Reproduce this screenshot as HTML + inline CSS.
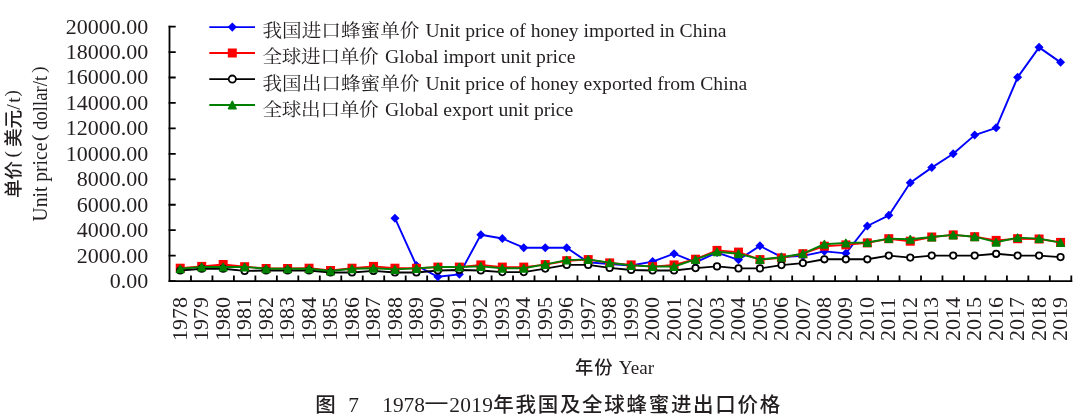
<!DOCTYPE html>
<html lang="zh-CN">
<head>
<meta charset="utf-8">
<title>图 7 1978—2019年我国及全球蜂蜜进出口价格</title>
<style>
html,body{margin:0;padding:0;background:#fff;}
body{width:1080px;height:419px;overflow:hidden;position:relative;}
svg{position:absolute;left:0;top:0;display:block;}
.s{font-family:"Liberation Serif","Noto Serif CJK SC",serif;fill:#231f20;}
.h{font-family:"Liberation Serif","Noto Sans CJK SC",sans-serif;fill:#231f20;}
</style>
</head>
<body>
<svg width="1080" height="419" viewBox="0 0 1080 419">
<rect x="0" y="0" width="1080" height="419" fill="#ffffff"/>

<g stroke="#000" stroke-width="1.8" fill="none" stroke-linecap="square">
<path d="M169.5 26.6 V281.1 H1071.3"/>
<path d="M169.5 281.10 h5.3 M169.5 255.65 h5.3 M169.5 230.20 h5.3 M169.5 204.75 h5.3 M169.5 179.30 h5.3 M169.5 153.85 h5.3 M169.5 128.40 h5.3 M169.5 102.95 h5.3 M169.5 77.50 h5.3 M169.5 52.05 h5.3 M169.5 26.60 h5.3 M190.97 281.1 v-4.7 M212.44 281.1 v-4.7 M233.91 281.1 v-4.7 M255.39 281.1 v-4.7 M276.86 281.1 v-4.7 M298.33 281.1 v-4.7 M319.80 281.1 v-4.7 M341.27 281.1 v-4.7 M362.74 281.1 v-4.7 M384.21 281.1 v-4.7 M405.69 281.1 v-4.7 M427.16 281.1 v-4.7 M448.63 281.1 v-4.7 M470.10 281.1 v-4.7 M491.57 281.1 v-4.7 M513.04 281.1 v-4.7 M534.51 281.1 v-4.7 M555.99 281.1 v-4.7 M577.46 281.1 v-4.7 M598.93 281.1 v-4.7 M620.40 281.1 v-4.7 M641.87 281.1 v-4.7 M663.34 281.1 v-4.7 M684.81 281.1 v-4.7 M706.29 281.1 v-4.7 M727.76 281.1 v-4.7 M749.23 281.1 v-4.7 M770.70 281.1 v-4.7 M792.17 281.1 v-4.7 M813.64 281.1 v-4.7 M835.11 281.1 v-4.7 M856.59 281.1 v-4.7 M878.06 281.1 v-4.7 M899.53 281.1 v-4.7 M921.00 281.1 v-4.7 M942.47 281.1 v-4.7 M963.94 281.1 v-4.7 M985.41 281.1 v-4.7 M1006.89 281.1 v-4.7 M1028.36 281.1 v-4.7 M1049.83 281.1 v-4.7 M1071.30 281.1 v-4.7 "/>
</g>
<g class="s" font-size="22" text-anchor="end">
<text x="148.3" y="288.0">0.00</text>
<text x="148.3" y="262.6">2000.00</text>
<text x="148.3" y="237.1">4000.00</text>
<text x="148.3" y="211.7">6000.00</text>
<text x="148.3" y="186.2">8000.00</text>
<text x="148.3" y="160.8">10000.00</text>
<text x="148.3" y="135.3">12000.00</text>
<text x="148.3" y="109.8">14000.00</text>
<text x="148.3" y="84.4">16000.00</text>
<text x="148.3" y="58.9">18000.00</text>
<text x="148.3" y="33.5">20000.00</text>
</g>
<g class="s" font-size="22">
<text transform="translate(186.84 341) rotate(-90)">1978</text>
<text transform="translate(208.31 341) rotate(-90)">1979</text>
<text transform="translate(229.78 341) rotate(-90)">1980</text>
<text transform="translate(251.25 341) rotate(-90)">1981</text>
<text transform="translate(272.72 341) rotate(-90)">1982</text>
<text transform="translate(294.19 341) rotate(-90)">1983</text>
<text transform="translate(315.66 341) rotate(-90)">1984</text>
<text transform="translate(337.14 341) rotate(-90)">1985</text>
<text transform="translate(358.61 341) rotate(-90)">1986</text>
<text transform="translate(380.08 341) rotate(-90)">1987</text>
<text transform="translate(401.55 341) rotate(-90)">1988</text>
<text transform="translate(423.02 341) rotate(-90)">1989</text>
<text transform="translate(444.49 341) rotate(-90)">1990</text>
<text transform="translate(465.96 341) rotate(-90)">1991</text>
<text transform="translate(487.44 341) rotate(-90)">1992</text>
<text transform="translate(508.91 341) rotate(-90)">1993</text>
<text transform="translate(530.38 341) rotate(-90)">1994</text>
<text transform="translate(551.85 341) rotate(-90)">1995</text>
<text transform="translate(573.32 341) rotate(-90)">1996</text>
<text transform="translate(594.79 341) rotate(-90)">1997</text>
<text transform="translate(616.26 341) rotate(-90)">1998</text>
<text transform="translate(637.74 341) rotate(-90)">1999</text>
<text transform="translate(659.21 341) rotate(-90)">2000</text>
<text transform="translate(680.68 341) rotate(-90)">2001</text>
<text transform="translate(702.15 341) rotate(-90)">2002</text>
<text transform="translate(723.62 341) rotate(-90)">2003</text>
<text transform="translate(745.09 341) rotate(-90)">2004</text>
<text transform="translate(766.56 341) rotate(-90)">2005</text>
<text transform="translate(788.04 341) rotate(-90)">2006</text>
<text transform="translate(809.51 341) rotate(-90)">2007</text>
<text transform="translate(830.98 341) rotate(-90)">2008</text>
<text transform="translate(852.45 341) rotate(-90)">2009</text>
<text transform="translate(873.92 341) rotate(-90)">2010</text>
<text transform="translate(895.39 341) rotate(-90)">2011</text>
<text transform="translate(916.86 341) rotate(-90)">2012</text>
<text transform="translate(938.34 341) rotate(-90)">2013</text>
<text transform="translate(959.81 341) rotate(-90)">2014</text>
<text transform="translate(981.28 341) rotate(-90)">2015</text>
<text transform="translate(1002.75 341) rotate(-90)">2016</text>
<text transform="translate(1024.22 341) rotate(-90)">2017</text>
<text transform="translate(1045.69 341) rotate(-90)">2018</text>
<text transform="translate(1067.16 341) rotate(-90)">2019</text>
</g>
<g>
<polyline fill="none" stroke="#0000ff" stroke-width="1.9" stroke-linejoin="round" points="394.95,218.20 416.42,265.50 437.89,276.80 459.36,274.40 480.84,234.80 502.31,238.50 523.78,247.70 545.25,247.70 566.72,247.70 588.19,262.40 609.66,264.00 631.14,265.50 652.61,261.60 674.08,253.70 695.55,262.30 717.02,252.60 738.49,259.80 759.96,245.90 781.44,257.00 802.91,255.90 824.38,251.40 845.85,253.40 867.32,226.00 888.79,215.40 910.26,182.80 931.74,167.60 953.21,153.80 974.68,135.10 996.15,127.90 1017.62,77.40 1039.09,47.40 1060.56,62.40"/>
<path fill="#0000ff" d="M394.95 213.65 l4.5 4.5 l-4.5 4.5 l-4.5 -4.5 z"/>
<path fill="#0000ff" d="M416.42 260.95 l4.5 4.5 l-4.5 4.5 l-4.5 -4.5 z"/>
<path fill="#0000ff" d="M437.89 272.25 l4.5 4.5 l-4.5 4.5 l-4.5 -4.5 z"/>
<path fill="#0000ff" d="M459.36 269.85 l4.5 4.5 l-4.5 4.5 l-4.5 -4.5 z"/>
<path fill="#0000ff" d="M480.84 230.25 l4.5 4.5 l-4.5 4.5 l-4.5 -4.5 z"/>
<path fill="#0000ff" d="M502.31 233.95 l4.5 4.5 l-4.5 4.5 l-4.5 -4.5 z"/>
<path fill="#0000ff" d="M523.78 243.15 l4.5 4.5 l-4.5 4.5 l-4.5 -4.5 z"/>
<path fill="#0000ff" d="M545.25 243.15 l4.5 4.5 l-4.5 4.5 l-4.5 -4.5 z"/>
<path fill="#0000ff" d="M566.72 243.15 l4.5 4.5 l-4.5 4.5 l-4.5 -4.5 z"/>
<path fill="#0000ff" d="M588.19 257.85 l4.5 4.5 l-4.5 4.5 l-4.5 -4.5 z"/>
<path fill="#0000ff" d="M609.66 259.45 l4.5 4.5 l-4.5 4.5 l-4.5 -4.5 z"/>
<path fill="#0000ff" d="M631.14 260.95 l4.5 4.5 l-4.5 4.5 l-4.5 -4.5 z"/>
<path fill="#0000ff" d="M652.61 257.05 l4.5 4.5 l-4.5 4.5 l-4.5 -4.5 z"/>
<path fill="#0000ff" d="M674.08 249.15 l4.5 4.5 l-4.5 4.5 l-4.5 -4.5 z"/>
<path fill="#0000ff" d="M695.55 257.75 l4.5 4.5 l-4.5 4.5 l-4.5 -4.5 z"/>
<path fill="#0000ff" d="M717.02 248.05 l4.5 4.5 l-4.5 4.5 l-4.5 -4.5 z"/>
<path fill="#0000ff" d="M738.49 255.25 l4.5 4.5 l-4.5 4.5 l-4.5 -4.5 z"/>
<path fill="#0000ff" d="M759.96 241.35 l4.5 4.5 l-4.5 4.5 l-4.5 -4.5 z"/>
<path fill="#0000ff" d="M781.44 252.45 l4.5 4.5 l-4.5 4.5 l-4.5 -4.5 z"/>
<path fill="#0000ff" d="M802.91 251.35 l4.5 4.5 l-4.5 4.5 l-4.5 -4.5 z"/>
<path fill="#0000ff" d="M824.38 246.85 l4.5 4.5 l-4.5 4.5 l-4.5 -4.5 z"/>
<path fill="#0000ff" d="M845.85 248.85 l4.5 4.5 l-4.5 4.5 l-4.5 -4.5 z"/>
<path fill="#0000ff" d="M867.32 221.45 l4.5 4.5 l-4.5 4.5 l-4.5 -4.5 z"/>
<path fill="#0000ff" d="M888.79 210.85 l4.5 4.5 l-4.5 4.5 l-4.5 -4.5 z"/>
<path fill="#0000ff" d="M910.26 178.25 l4.5 4.5 l-4.5 4.5 l-4.5 -4.5 z"/>
<path fill="#0000ff" d="M931.74 163.05 l4.5 4.5 l-4.5 4.5 l-4.5 -4.5 z"/>
<path fill="#0000ff" d="M953.21 149.25 l4.5 4.5 l-4.5 4.5 l-4.5 -4.5 z"/>
<path fill="#0000ff" d="M974.68 130.55 l4.5 4.5 l-4.5 4.5 l-4.5 -4.5 z"/>
<path fill="#0000ff" d="M996.15 123.35 l4.5 4.5 l-4.5 4.5 l-4.5 -4.5 z"/>
<path fill="#0000ff" d="M1017.62 72.85 l4.5 4.5 l-4.5 4.5 l-4.5 -4.5 z"/>
<path fill="#0000ff" d="M1039.09 42.85 l4.5 4.5 l-4.5 4.5 l-4.5 -4.5 z"/>
<path fill="#0000ff" d="M1060.56 57.85 l4.5 4.5 l-4.5 4.5 l-4.5 -4.5 z"/>
</g>
<g>
<polyline fill="none" stroke="#ff0000" stroke-width="1.9" stroke-linejoin="round" points="180.24,268.20 201.71,266.40 223.18,264.50 244.65,266.70 266.12,268.50 287.59,268.50 309.06,268.20 330.54,270.50 352.01,268.20 373.48,266.40 394.95,268.20 416.42,268.30 437.89,267.10 459.36,267.10 480.84,264.90 502.31,267.10 523.78,267.10 545.25,264.60 566.72,260.70 588.19,259.60 609.66,262.90 631.14,264.90 652.61,266.60 674.08,264.90 695.55,259.20 717.02,250.40 738.49,252.10 759.96,259.60 781.44,257.90 802.91,253.70 824.38,246.20 845.85,244.90 867.32,242.90 888.79,238.70 910.26,241.20 931.74,237.00 953.21,234.90 974.68,236.70 996.15,240.40 1017.62,238.70 1039.09,239.00 1060.56,242.40"/>
<rect fill="#ff0000" x="175.74" y="263.70" width="9.0" height="9.0"/>
<rect fill="#ff0000" x="197.21" y="261.90" width="9.0" height="9.0"/>
<rect fill="#ff0000" x="218.68" y="260.00" width="9.0" height="9.0"/>
<rect fill="#ff0000" x="240.15" y="262.20" width="9.0" height="9.0"/>
<rect fill="#ff0000" x="261.62" y="264.00" width="9.0" height="9.0"/>
<rect fill="#ff0000" x="283.09" y="264.00" width="9.0" height="9.0"/>
<rect fill="#ff0000" x="304.56" y="263.70" width="9.0" height="9.0"/>
<rect fill="#ff0000" x="326.04" y="266.00" width="9.0" height="9.0"/>
<rect fill="#ff0000" x="347.51" y="263.70" width="9.0" height="9.0"/>
<rect fill="#ff0000" x="368.98" y="261.90" width="9.0" height="9.0"/>
<rect fill="#ff0000" x="390.45" y="263.70" width="9.0" height="9.0"/>
<rect fill="#ff0000" x="411.92" y="263.80" width="9.0" height="9.0"/>
<rect fill="#ff0000" x="433.39" y="262.60" width="9.0" height="9.0"/>
<rect fill="#ff0000" x="454.86" y="262.60" width="9.0" height="9.0"/>
<rect fill="#ff0000" x="476.34" y="260.40" width="9.0" height="9.0"/>
<rect fill="#ff0000" x="497.81" y="262.60" width="9.0" height="9.0"/>
<rect fill="#ff0000" x="519.28" y="262.60" width="9.0" height="9.0"/>
<rect fill="#ff0000" x="540.75" y="260.10" width="9.0" height="9.0"/>
<rect fill="#ff0000" x="562.22" y="256.20" width="9.0" height="9.0"/>
<rect fill="#ff0000" x="583.69" y="255.10" width="9.0" height="9.0"/>
<rect fill="#ff0000" x="605.16" y="258.40" width="9.0" height="9.0"/>
<rect fill="#ff0000" x="626.64" y="260.40" width="9.0" height="9.0"/>
<rect fill="#ff0000" x="648.11" y="262.10" width="9.0" height="9.0"/>
<rect fill="#ff0000" x="669.58" y="260.40" width="9.0" height="9.0"/>
<rect fill="#ff0000" x="691.05" y="254.70" width="9.0" height="9.0"/>
<rect fill="#ff0000" x="712.52" y="245.90" width="9.0" height="9.0"/>
<rect fill="#ff0000" x="733.99" y="247.60" width="9.0" height="9.0"/>
<rect fill="#ff0000" x="755.46" y="255.10" width="9.0" height="9.0"/>
<rect fill="#ff0000" x="776.94" y="253.40" width="9.0" height="9.0"/>
<rect fill="#ff0000" x="798.41" y="249.20" width="9.0" height="9.0"/>
<rect fill="#ff0000" x="819.88" y="241.70" width="9.0" height="9.0"/>
<rect fill="#ff0000" x="841.35" y="240.40" width="9.0" height="9.0"/>
<rect fill="#ff0000" x="862.82" y="238.40" width="9.0" height="9.0"/>
<rect fill="#ff0000" x="884.29" y="234.20" width="9.0" height="9.0"/>
<rect fill="#ff0000" x="905.76" y="236.70" width="9.0" height="9.0"/>
<rect fill="#ff0000" x="927.24" y="232.50" width="9.0" height="9.0"/>
<rect fill="#ff0000" x="948.71" y="230.40" width="9.0" height="9.0"/>
<rect fill="#ff0000" x="970.18" y="232.20" width="9.0" height="9.0"/>
<rect fill="#ff0000" x="991.65" y="235.90" width="9.0" height="9.0"/>
<rect fill="#ff0000" x="1013.12" y="234.20" width="9.0" height="9.0"/>
<rect fill="#ff0000" x="1034.59" y="234.50" width="9.0" height="9.0"/>
<rect fill="#ff0000" x="1056.06" y="237.90" width="9.0" height="9.0"/>
</g>
<g>
<polyline fill="none" stroke="#000000" stroke-width="1.9" stroke-linejoin="round" points="180.24,270.50 201.71,268.70 223.18,268.70 244.65,270.90 266.12,270.50 287.59,270.50 309.06,270.50 330.54,272.50 352.01,272.50 373.48,270.90 394.95,272.50 416.42,272.50 437.89,270.50 459.36,270.00 480.84,270.50 502.31,272.10 523.78,272.10 545.25,268.60 566.72,264.90 588.19,264.90 609.66,267.90 631.14,270.00 652.61,270.50 674.08,270.50 695.55,268.10 717.02,266.40 738.49,268.40 759.96,268.40 781.44,265.10 802.91,263.10 824.38,259.30 845.85,259.30 867.32,259.30 888.79,255.60 910.26,257.60 931.74,255.60 953.21,255.60 974.68,255.60 996.15,253.80 1017.62,255.60 1039.09,255.60 1060.56,257.10"/>
<circle fill="#fff" stroke="#000000" stroke-width="1.8" cx="180.24" cy="270.50" r="3.2"/>
<circle fill="#fff" stroke="#000000" stroke-width="1.8" cx="201.71" cy="268.70" r="3.2"/>
<circle fill="#fff" stroke="#000000" stroke-width="1.8" cx="223.18" cy="268.70" r="3.2"/>
<circle fill="#fff" stroke="#000000" stroke-width="1.8" cx="244.65" cy="270.90" r="3.2"/>
<circle fill="#fff" stroke="#000000" stroke-width="1.8" cx="266.12" cy="270.50" r="3.2"/>
<circle fill="#fff" stroke="#000000" stroke-width="1.8" cx="287.59" cy="270.50" r="3.2"/>
<circle fill="#fff" stroke="#000000" stroke-width="1.8" cx="309.06" cy="270.50" r="3.2"/>
<circle fill="#fff" stroke="#000000" stroke-width="1.8" cx="330.54" cy="272.50" r="3.2"/>
<circle fill="#fff" stroke="#000000" stroke-width="1.8" cx="352.01" cy="272.50" r="3.2"/>
<circle fill="#fff" stroke="#000000" stroke-width="1.8" cx="373.48" cy="270.90" r="3.2"/>
<circle fill="#fff" stroke="#000000" stroke-width="1.8" cx="394.95" cy="272.50" r="3.2"/>
<circle fill="#fff" stroke="#000000" stroke-width="1.8" cx="416.42" cy="272.50" r="3.2"/>
<circle fill="#fff" stroke="#000000" stroke-width="1.8" cx="437.89" cy="270.50" r="3.2"/>
<circle fill="#fff" stroke="#000000" stroke-width="1.8" cx="459.36" cy="270.00" r="3.2"/>
<circle fill="#fff" stroke="#000000" stroke-width="1.8" cx="480.84" cy="270.50" r="3.2"/>
<circle fill="#fff" stroke="#000000" stroke-width="1.8" cx="502.31" cy="272.10" r="3.2"/>
<circle fill="#fff" stroke="#000000" stroke-width="1.8" cx="523.78" cy="272.10" r="3.2"/>
<circle fill="#fff" stroke="#000000" stroke-width="1.8" cx="545.25" cy="268.60" r="3.2"/>
<circle fill="#fff" stroke="#000000" stroke-width="1.8" cx="566.72" cy="264.90" r="3.2"/>
<circle fill="#fff" stroke="#000000" stroke-width="1.8" cx="588.19" cy="264.90" r="3.2"/>
<circle fill="#fff" stroke="#000000" stroke-width="1.8" cx="609.66" cy="267.90" r="3.2"/>
<circle fill="#fff" stroke="#000000" stroke-width="1.8" cx="631.14" cy="270.00" r="3.2"/>
<circle fill="#fff" stroke="#000000" stroke-width="1.8" cx="652.61" cy="270.50" r="3.2"/>
<circle fill="#fff" stroke="#000000" stroke-width="1.8" cx="674.08" cy="270.50" r="3.2"/>
<circle fill="#fff" stroke="#000000" stroke-width="1.8" cx="695.55" cy="268.10" r="3.2"/>
<circle fill="#fff" stroke="#000000" stroke-width="1.8" cx="717.02" cy="266.40" r="3.2"/>
<circle fill="#fff" stroke="#000000" stroke-width="1.8" cx="738.49" cy="268.40" r="3.2"/>
<circle fill="#fff" stroke="#000000" stroke-width="1.8" cx="759.96" cy="268.40" r="3.2"/>
<circle fill="#fff" stroke="#000000" stroke-width="1.8" cx="781.44" cy="265.10" r="3.2"/>
<circle fill="#fff" stroke="#000000" stroke-width="1.8" cx="802.91" cy="263.10" r="3.2"/>
<circle fill="#fff" stroke="#000000" stroke-width="1.8" cx="824.38" cy="259.30" r="3.2"/>
<circle fill="#fff" stroke="#000000" stroke-width="1.8" cx="845.85" cy="259.30" r="3.2"/>
<circle fill="#fff" stroke="#000000" stroke-width="1.8" cx="867.32" cy="259.30" r="3.2"/>
<circle fill="#fff" stroke="#000000" stroke-width="1.8" cx="888.79" cy="255.60" r="3.2"/>
<circle fill="#fff" stroke="#000000" stroke-width="1.8" cx="910.26" cy="257.60" r="3.2"/>
<circle fill="#fff" stroke="#000000" stroke-width="1.8" cx="931.74" cy="255.60" r="3.2"/>
<circle fill="#fff" stroke="#000000" stroke-width="1.8" cx="953.21" cy="255.60" r="3.2"/>
<circle fill="#fff" stroke="#000000" stroke-width="1.8" cx="974.68" cy="255.60" r="3.2"/>
<circle fill="#fff" stroke="#000000" stroke-width="1.8" cx="996.15" cy="253.80" r="3.2"/>
<circle fill="#fff" stroke="#000000" stroke-width="1.8" cx="1017.62" cy="255.60" r="3.2"/>
<circle fill="#fff" stroke="#000000" stroke-width="1.8" cx="1039.09" cy="255.60" r="3.2"/>
<circle fill="#fff" stroke="#000000" stroke-width="1.8" cx="1060.56" cy="257.10" r="3.2"/>
</g>
<g>
<polyline fill="none" stroke="#008000" stroke-width="1.9" stroke-linejoin="round" points="180.24,268.80 201.71,266.90 223.18,267.00 244.65,266.90 266.12,268.70 287.59,268.70 309.06,268.70 330.54,271.00 352.01,268.70 373.48,268.20 394.95,269.40 416.42,268.40 437.89,267.00 459.36,267.00 480.84,266.40 502.31,268.30 523.78,268.30 545.25,264.40 566.72,260.10 588.19,259.40 609.66,262.80 631.14,265.40 652.61,266.50 674.08,266.50 695.55,259.40 717.02,251.70 738.49,253.70 759.96,259.40 781.44,257.20 802.91,253.70 824.38,244.20 845.85,242.90 867.32,242.50 888.79,238.60 910.26,239.20 931.74,237.00 953.21,234.90 974.68,236.70 996.15,242.20 1017.62,237.60 1039.09,238.60 1060.56,242.60"/>
<path fill="#008000" stroke="#008000" stroke-width="1.5" stroke-linejoin="round" d="M180.24 265.25 L183.94 272.55 L176.54 272.55 z"/>
<path fill="#008000" stroke="#008000" stroke-width="1.5" stroke-linejoin="round" d="M201.71 263.35 L205.41 270.65 L198.01 270.65 z"/>
<path fill="#008000" stroke="#008000" stroke-width="1.5" stroke-linejoin="round" d="M223.18 263.45 L226.88 270.75 L219.48 270.75 z"/>
<path fill="#008000" stroke="#008000" stroke-width="1.5" stroke-linejoin="round" d="M244.65 263.35 L248.35 270.65 L240.95 270.65 z"/>
<path fill="#008000" stroke="#008000" stroke-width="1.5" stroke-linejoin="round" d="M266.12 265.15 L269.82 272.45 L262.42 272.45 z"/>
<path fill="#008000" stroke="#008000" stroke-width="1.5" stroke-linejoin="round" d="M287.59 265.15 L291.29 272.45 L283.89 272.45 z"/>
<path fill="#008000" stroke="#008000" stroke-width="1.5" stroke-linejoin="round" d="M309.06 265.15 L312.76 272.45 L305.36 272.45 z"/>
<path fill="#008000" stroke="#008000" stroke-width="1.5" stroke-linejoin="round" d="M330.54 267.45 L334.24 274.75 L326.84 274.75 z"/>
<path fill="#008000" stroke="#008000" stroke-width="1.5" stroke-linejoin="round" d="M352.01 265.15 L355.71 272.45 L348.31 272.45 z"/>
<path fill="#008000" stroke="#008000" stroke-width="1.5" stroke-linejoin="round" d="M373.48 264.65 L377.18 271.95 L369.78 271.95 z"/>
<path fill="#008000" stroke="#008000" stroke-width="1.5" stroke-linejoin="round" d="M394.95 265.85 L398.65 273.15 L391.25 273.15 z"/>
<path fill="#008000" stroke="#008000" stroke-width="1.5" stroke-linejoin="round" d="M416.42 264.85 L420.12 272.15 L412.72 272.15 z"/>
<path fill="#008000" stroke="#008000" stroke-width="1.5" stroke-linejoin="round" d="M437.89 263.45 L441.59 270.75 L434.19 270.75 z"/>
<path fill="#008000" stroke="#008000" stroke-width="1.5" stroke-linejoin="round" d="M459.36 263.45 L463.06 270.75 L455.66 270.75 z"/>
<path fill="#008000" stroke="#008000" stroke-width="1.5" stroke-linejoin="round" d="M480.84 262.85 L484.54 270.15 L477.14 270.15 z"/>
<path fill="#008000" stroke="#008000" stroke-width="1.5" stroke-linejoin="round" d="M502.31 264.75 L506.01 272.05 L498.61 272.05 z"/>
<path fill="#008000" stroke="#008000" stroke-width="1.5" stroke-linejoin="round" d="M523.78 264.75 L527.48 272.05 L520.08 272.05 z"/>
<path fill="#008000" stroke="#008000" stroke-width="1.5" stroke-linejoin="round" d="M545.25 260.85 L548.95 268.15 L541.55 268.15 z"/>
<path fill="#008000" stroke="#008000" stroke-width="1.5" stroke-linejoin="round" d="M566.72 256.55 L570.42 263.85 L563.02 263.85 z"/>
<path fill="#008000" stroke="#008000" stroke-width="1.5" stroke-linejoin="round" d="M588.19 255.85 L591.89 263.15 L584.49 263.15 z"/>
<path fill="#008000" stroke="#008000" stroke-width="1.5" stroke-linejoin="round" d="M609.66 259.25 L613.36 266.55 L605.96 266.55 z"/>
<path fill="#008000" stroke="#008000" stroke-width="1.5" stroke-linejoin="round" d="M631.14 261.85 L634.84 269.15 L627.44 269.15 z"/>
<path fill="#008000" stroke="#008000" stroke-width="1.5" stroke-linejoin="round" d="M652.61 262.95 L656.31 270.25 L648.91 270.25 z"/>
<path fill="#008000" stroke="#008000" stroke-width="1.5" stroke-linejoin="round" d="M674.08 262.95 L677.78 270.25 L670.38 270.25 z"/>
<path fill="#008000" stroke="#008000" stroke-width="1.5" stroke-linejoin="round" d="M695.55 255.85 L699.25 263.15 L691.85 263.15 z"/>
<path fill="#008000" stroke="#008000" stroke-width="1.5" stroke-linejoin="round" d="M717.02 248.15 L720.72 255.45 L713.32 255.45 z"/>
<path fill="#008000" stroke="#008000" stroke-width="1.5" stroke-linejoin="round" d="M738.49 250.15 L742.19 257.45 L734.79 257.45 z"/>
<path fill="#008000" stroke="#008000" stroke-width="1.5" stroke-linejoin="round" d="M759.96 255.85 L763.66 263.15 L756.26 263.15 z"/>
<path fill="#008000" stroke="#008000" stroke-width="1.5" stroke-linejoin="round" d="M781.44 253.65 L785.14 260.95 L777.74 260.95 z"/>
<path fill="#008000" stroke="#008000" stroke-width="1.5" stroke-linejoin="round" d="M802.91 250.15 L806.61 257.45 L799.21 257.45 z"/>
<path fill="#008000" stroke="#008000" stroke-width="1.5" stroke-linejoin="round" d="M824.38 240.65 L828.08 247.95 L820.68 247.95 z"/>
<path fill="#008000" stroke="#008000" stroke-width="1.5" stroke-linejoin="round" d="M845.85 239.35 L849.55 246.65 L842.15 246.65 z"/>
<path fill="#008000" stroke="#008000" stroke-width="1.5" stroke-linejoin="round" d="M867.32 238.95 L871.02 246.25 L863.62 246.25 z"/>
<path fill="#008000" stroke="#008000" stroke-width="1.5" stroke-linejoin="round" d="M888.79 235.05 L892.49 242.35 L885.09 242.35 z"/>
<path fill="#008000" stroke="#008000" stroke-width="1.5" stroke-linejoin="round" d="M910.26 235.65 L913.96 242.95 L906.56 242.95 z"/>
<path fill="#008000" stroke="#008000" stroke-width="1.5" stroke-linejoin="round" d="M931.74 233.45 L935.44 240.75 L928.04 240.75 z"/>
<path fill="#008000" stroke="#008000" stroke-width="1.5" stroke-linejoin="round" d="M953.21 231.35 L956.91 238.65 L949.51 238.65 z"/>
<path fill="#008000" stroke="#008000" stroke-width="1.5" stroke-linejoin="round" d="M974.68 233.15 L978.38 240.45 L970.98 240.45 z"/>
<path fill="#008000" stroke="#008000" stroke-width="1.5" stroke-linejoin="round" d="M996.15 238.65 L999.85 245.95 L992.45 245.95 z"/>
<path fill="#008000" stroke="#008000" stroke-width="1.5" stroke-linejoin="round" d="M1017.62 234.05 L1021.32 241.35 L1013.92 241.35 z"/>
<path fill="#008000" stroke="#008000" stroke-width="1.5" stroke-linejoin="round" d="M1039.09 235.05 L1042.79 242.35 L1035.39 242.35 z"/>
<path fill="#008000" stroke="#008000" stroke-width="1.5" stroke-linejoin="round" d="M1060.56 239.05 L1064.26 246.35 L1056.86 246.35 z"/>
</g>
<line x1="209.3" y1="27.1" x2="255.0" y2="27.1" stroke="#0000ff" stroke-width="1.9"/>
<line x1="209.3" y1="53.0" x2="255.0" y2="53.0" stroke="#ff0000" stroke-width="1.9"/>
<line x1="209.3" y1="79.1" x2="255.0" y2="79.1" stroke="#000000" stroke-width="1.9"/>
<line x1="209.3" y1="105.0" x2="255.0" y2="105.0" stroke="#008000" stroke-width="1.9"/>
<path fill="#0000ff" d="M232.30 22.50 l4.6 4.6 l-4.6 4.6 l-4.6 -4.6 z"/>
<rect fill="#ff0000" x="227.80" y="48.50" width="9.0" height="9.0"/>
<circle fill="#fff" stroke="#000000" stroke-width="1.8" cx="232.30" cy="79.10" r="3.6"/>
<path fill="#008000" stroke="#008000" stroke-width="1.5" stroke-linejoin="round" d="M232.30 101.35 L236.10 108.85 L228.50 108.85 z"/>
<text class="s" font-size="19.65" transform="translate(262.4 36.8) scale(1 0.91)">我国进口蜂蜜单价</text>
<text class="s" font-size="19.65" x="425.4" y="36.8">Unit price of honey imported in China</text>
<text class="s" font-size="19.65" letter-spacing="-0.3" transform="translate(262.4 63.2) scale(1 0.91)">全球进口单价</text>
<text class="s" font-size="19.65" x="385.0" y="63.2">Global import unit price</text>
<text class="s" font-size="19.65" transform="translate(262.4 89.6) scale(1 0.91)">我国出口蜂蜜单价</text>
<text class="s" font-size="19.65" x="425.4" y="89.6">Unit price of honey exported from China</text>
<text class="s" font-size="19.65" letter-spacing="-0.3" transform="translate(262.4 116.0) scale(1 0.91)">全球出口单价</text>
<text class="s" font-size="19.65" x="385.0" y="116.0">Global export unit price</text>
<text class="h" font-size="18.6" transform="translate(20.4 198.0) rotate(-90)" font-weight="500">单价</text>
<text class="s" font-size="19.2" transform="translate(18.2 157.5) rotate(-90)">(</text>
<text class="h" font-size="18.6" transform="translate(20.4 147.0) rotate(-90)" font-weight="500">美元</text>
<text class="s" font-size="19.6" transform="translate(20.4 109.7) rotate(-90)" letter-spacing="1.5">/t</text>
<text class="s" font-size="19.2" transform="translate(18.2 96.6) rotate(-90)">)</text>
<text class="s" font-size="20.4" transform="translate(47.3 221.5) rotate(-90) scale(0.962 1)">Unit price</text>
<text class="s" font-size="19.2" transform="translate(45.1 141.0) rotate(-90)">(</text>
<text class="s" font-size="20.4" transform="translate(47.3 130.1) rotate(-90) scale(0.923 1)">dollar/t</text>
<text class="s" font-size="19.2" transform="translate(45.1 72.8) rotate(-90)">)</text>
<text class="h" font-size="18.3" font-weight="500" letter-spacing="1.2" x="574.9" y="374.1">年份</text>
<text class="s" font-size="19.6" x="618.8" y="374.3" textLength="35.2" lengthAdjust="spacingAndGlyphs">Year</text>
<g class="h" font-size="20.5" font-weight="500">
<text x="315.2" y="411.9">图</text>
<text x="348.3" y="412.0" font-size="21.4" font-weight="400">7</text>
<text x="382.2" y="412.0" font-size="21.4" font-weight="400">1978</text>
<text x="424.2" y="411.3" font-size="27.4" font-family="Noto Sans CJK SC, sans-serif" font-weight="400">—</text>
<text x="449.2" y="412.0" font-size="21.4" font-weight="400" letter-spacing="0.3">2019</text>
<text x="493.3" y="411.9" letter-spacing="1.7">年我国及全球蜂蜜进出口价格</text>
</g>
</svg>
</body>
</html>
